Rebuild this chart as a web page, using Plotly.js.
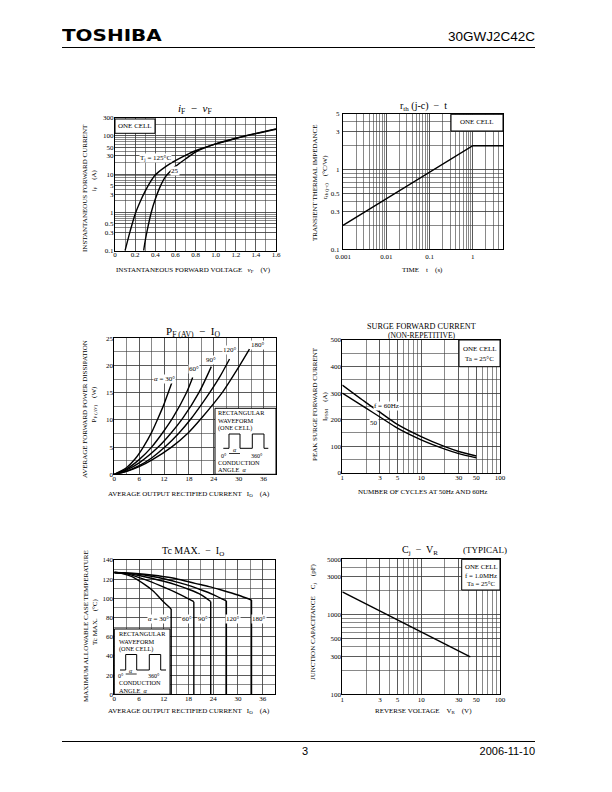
<!DOCTYPE html>
<html><head><meta charset="utf-8">
<script src="https://cdn.plot.ly/plotly-3.0.1.min.js"></script>
<style>
html,body{margin:0;padding:0;background:#fff;}
#wrap{position:relative;width:612px;height:792px;overflow:hidden;background:#fff;}
#chart{position:absolute;left:0;top:0;width:612px;height:792px;}
.hdr{position:absolute;color:#000;white-space:nowrap;line-height:1;}
.rule{position:absolute;left:62px;width:473px;height:1px;background:#000;}
</style></head><body>
<div id="wrap">
<div id="chart"></div>
<div class="hdr" style="left:62px;top:29px;font-family:'DejaVu Sans',sans-serif;font-weight:bold;font-size:15px;transform:scaleX(1.33);transform-origin:0 0;">TOSHIBA</div>
<div class="hdr" style="right:77px;top:30px;font-family:'Liberation Sans',Arial,sans-serif;font-size:13.5px;">30GWJ2C42C</div>
<div class="rule" style="top:47px;"></div>
<div class="rule" style="top:741px;"></div>
<div class="hdr" style="left:302px;top:746px;font-family:'Liberation Sans',Arial,sans-serif;font-size:11px;">3</div>
<div class="hdr" style="right:77px;top:746px;font-family:'Liberation Sans',Arial,sans-serif;font-size:11px;">2006-11-10</div>
</div>
<script>
// ---------------- DATA ----------------
// iF - vF
const vF125 = [0.10,0.15,0.20,0.25,0.30,0.35,0.40,0.50,0.60,0.70,0.80,1.00,1.20,1.40,1.60];
const iF125 = [0.1,0.32,0.9,1.9,3.6,6.2,9.5,15.5,22.5,31,41,62,86,115,150];
const vF25  = [0.285,0.30,0.33,0.36,0.40,0.45,0.50,0.55,0.60,0.70,0.80,1.00,1.20,1.40,1.60];
const iF25  = [0.1,0.18,0.45,1.0,2.2,4.8,8.5,12,16,25,38,62,87,117,153];
const ifvfXTicks = [0,0.2,0.4,0.6,0.8,1.0,1.2,1.4,1.6];
const ifvfXText  = ['0','0.2','0.4','0.6','0.8','1.0','1.2','1.4','1.6'];
const ifvfYTicks = [0.1,0.3,0.5,1,3,5,10,30,50,100,300];
const ifvfYText  = ['0.1','0.3','0.5','1','3','5','10','30','50','100','300'];

// rth(j-c) - t
const tTime = [0.001,0.01,0.1,1,5];
const rthJC = [0.2,0.43,0.93,2.0,2.0];
const rthXTicks = [0.001,0.01,0.1,1];
const rthXText  = ['0.001','0.01','0.1','1'];
const rthYTicks = [0.1,0.3,0.5,1,3,5];
const rthYText  = ['0.1','0.3','0.5','1','3','5'];

// PF(AV) - IO
const pfIo30  = [0,3,5,7,9,10.6,12,13,14];
const pfP30   = [0,1.26,2.8,5,7.7,10.4,12.9,15,17.1];
const pfIo60  = [0,3,6,9,12,14.2,17.4,18.9];
const pfP60   = [0,1.0,2.7,5,8,10.5,15,17.8];
const pfIo90  = [0,3,6,10.6,13.5,16.6,20.4,23.4];
const pfP90   = [0,0.8,2.1,5,7.4,10.4,15,19.8];
const pfIo120 = [0,3,6,9,12.2,15.5,18.6,21,23,25.5,27.8];
const pfP120  = [0,0.6,1.6,3.0,5,7.5,10.3,12.8,15,18,21.2];
const pfIo180 = [0,3,6,9,13.8,17.8,21,26.2,30,32.6];
const pfP180  = [0,0.55,1.4,2.6,5,7.6,10.3,15.2,19.7,23];
const ioTicks = [0,6,12,18,24,30,36];
const ioText  = ['0','6','12','18','24','30','36'];
const pfYTicks = [0,5,10,15,20,25];
const pfYText  = ['0','5','10','15','20','25'];

// Surge forward current
const cycles  = [1,2,3,5,10,20,30,50];
const ifsm60  = [330,264,228,182,136,98,80,63];
const ifsm50  = [300,243,210,168,124,89,72,56];
const logXTicks = [1,3,5,10,30,50,100];
const logXText  = ['1','3','5','10','30','50','100'];
const surgeYTicks = [0,100,200,300,400,500];
const surgeYText  = ['0','100','200','300','400','500'];

// Tc MAX - IO
const tcIo30  = [0,2,4.3,7.5,9.5,11.5,13.8];
const tcT30   = [127,125.8,122.6,114,107.5,98.3,89];
const tcIo60  = [0,3,7.5,11,15.5,19.3];
const tcT60   = [127,125.5,119.5,113.5,105,96.6];
const tcIo90  = [0,3,6,9,12,15,18,21,23.4];
const tcT90   = [127,126,123.8,121,117.8,114,109.5,104,96.8];
const tcIo120 = [0,3,6,9,12,15,18,21,24,27.2];
const tcT120  = [127,126.3,125,123,120.5,117.2,113.5,109,104,97.3];
const tcIo180 = [0,3,6,9,12,15,19.6,23,26,30,33.3];
const tcT180  = [127,126.6,125.7,124.3,122.6,120.5,115.7,112.3,108.7,103.5,98.3];
const tcYTicks = [0,20,40,60,80,100,120,140];
const tcYText  = ['0','20','40','60','80','100','120','140'];

// Cj - VR
const vR = [1,10,42];
const cJ = [1950,610,295];
const cjYTicks = [100,300,500,1000,3000,5000];
const cjYText  = ['100','300','500','1000','3000','5000'];

// ---------------- HELPERS ----------------
const SERIF = '"Liberation Serif","Times New Roman",serif';
const W = 612, H = 792;
const px = x => x / W;
const py = y => 1 - y / H;
const GRID = '#3a3a3a';

function logGrid(lo, hi) {
  const out = [];
  for (let e = Math.floor(Math.log10(lo)) - 1; e <= Math.ceil(Math.log10(hi)); e++) {
    for (let m = 1; m < 10; m++) {
      const v = +(m * Math.pow(10, e)).toPrecision(6);
      if (v >= lo * 0.9999 && v <= hi * 1.0001) out.push(v);
    }
  }
  return out;
}
function linGrid(lo, hi, step) {
  const out = [];
  for (let v = lo; v <= hi + 1e-9; v += step) out.push(+v.toFixed(6));
  return out;
}
function ticks(grid, vals, texts) {
  return {
    tickmode: 'array', tickvals: vals, ticktext: texts,
    minor: { tickmode: 'array', tickvals: grid, showgrid: true, gridcolor: GRID, gridwidth: 0.6, ticks: '' }
  };
}
function axis(extra, standoff) {
  return Object.assign({
    showline: true, linecolor: '#000', linewidth: 1, mirror: true,
    showgrid: true, gridcolor: GRID, gridwidth: 0.6,
    zeroline: false, ticks: '', fixedrange: true,
    ticklabelstandoff: standoff,
    tickfont: { family: SERIF, size: 7, color: '#000' }
  }, extra);
}
const LINE = { color: '#000', width: 1.4, shape: 'spline', smoothing: 0.8 };
function tr(x, y, xa, ya, shape) {
  return { x, y, xaxis: xa, yaxis: ya, mode: 'lines', hoverinfo: 'skip',
           line: Object.assign({}, LINE, shape ? { shape } : {}) };
}
function txt(text, x, y, size, extra) {
  return Object.assign({ text, x: px(x), y: py(y), xref: 'paper', yref: 'paper',
    showarrow: false, xanchor: 'center', yanchor: 'middle', borderpad: 0,
    font: { family: SERIF, size, color: '#000' } }, extra || {});
}
function dlab(text, x, y, xr, yr, size, extra) {
  return Object.assign({ text, x, y, xref: xr, yref: yr, showarrow: false,
    xanchor: 'center', yanchor: 'middle', borderpad: 0,
    font: { family: SERIF, size, color: '#000' } }, extra || {});
}
function box(x0, y0, x1, y1) {
  return { type: 'rect', xref: 'paper', yref: 'paper', x0: px(x0), x1: px(x1), y0: py(y1), y1: py(y0),
           line: { color: '#000', width: 1 }, fillcolor: '#fff', layer: 'above' };
}
function pathShape(pts) {
  const d = pts.map((p, i) => (i ? 'L' : 'M') + px(p[0]).toFixed(5) + ',' + py(p[1]).toFixed(5)).join(' ');
  return { type: 'path', xref: 'paper', yref: 'paper', path: d, line: { color: '#000', width: 1 }, layer: 'above' };
}
function lineShape(x0, y0, x1, y1) {
  return { type: 'line', xref: 'paper', yref: 'paper', x0: px(x0), y0: py(y0), x1: px(x1), y1: py(y1),
           line: { color: '#000', width: 0.8 }, layer: 'above' };
}

// ---------------- TRACES ----------------
const last = a => a[a.length - 1];
const traces = [
  tr(vF125, iF125, 'x', 'y'),
  tr(vF25, iF25, 'x', 'y'),
  tr(tTime, rthJC, 'x2', 'y2', 'linear'),
  tr(pfIo30, pfP30, 'x3', 'y3'),
  tr(pfIo60, pfP60, 'x3', 'y3'),
  tr(pfIo90, pfP90, 'x3', 'y3'),
  tr(pfIo120, pfP120, 'x3', 'y3'),
  tr(pfIo180, pfP180, 'x3', 'y3'),
  tr(cycles, ifsm60, 'x4', 'y4'),
  tr(cycles, ifsm50, 'x4', 'y4'),
  tr(tcIo30, tcT30, 'x5', 'y5'),
  tr(tcIo60, tcT60, 'x5', 'y5'),
  tr(tcIo90, tcT90, 'x5', 'y5'),
  tr(tcIo120, tcT120, 'x5', 'y5'),
  tr(tcIo180, tcT180, 'x5', 'y5'),
  tr([last(tcIo30), last(tcIo30)], [last(tcT30), 0], 'x5', 'y5', 'linear'),
  tr([last(tcIo60), last(tcIo60)], [last(tcT60), 0], 'x5', 'y5', 'linear'),
  tr([last(tcIo90), last(tcIo90)], [last(tcT90), 0], 'x5', 'y5', 'linear'),
  tr([last(tcIo120), last(tcIo120)], [last(tcT120), 0], 'x5', 'y5', 'linear'),
  tr([last(tcIo180), last(tcIo180)], [last(tcT180), 0], 'x5', 'y5', 'linear'),
  tr(vR, cJ, 'x6', 'y6', 'linear')
];

// ---------------- LAYOUT ----------------
const layout = {
  width: W, height: H, margin: { l: 0, r: 0, t: 0, b: 0 },
  paper_bgcolor: 'rgba(0,0,0,0)', plot_bgcolor: '#fff', showlegend: false, hovermode: false,
  xaxis: axis(Object.assign({ domain: [px(115), px(276)], range: [0, 1.6], anchor: 'y' },
    ticks(linGrid(0, 1.6, 0.1), ifvfXTicks, ifvfXText)), -3),
  yaxis: axis(Object.assign({ domain: [py(250.7), py(117.7)], type: 'log', range: [-1, Math.log10(300)], anchor: 'x' },
    ticks(logGrid(0.1, 300), ifvfYTicks, ifvfYText)), -1),
  xaxis2: axis(Object.assign({ domain: [px(343), px(503)], type: 'log', range: [-3, Math.log10(5)], anchor: 'y2' },
    ticks(logGrid(0.001, 5), rthXTicks, rthXText)), 0),
  yaxis2: axis(Object.assign({ domain: [py(249.3), py(114)], type: 'log', range: [-1, Math.log10(5)], anchor: 'x2' },
    ticks(logGrid(0.1, 5), rthYTicks, rthYText)), 1),
  xaxis3: axis(Object.assign({ domain: [px(114.3), px(276)], range: [0, 39], anchor: 'y3' },
    ticks(linGrid(0, 39, 3), ioTicks, ioText)), -3),
  yaxis3: axis(Object.assign({ domain: [py(474.3), py(338.3)], range: [0, 25], anchor: 'x3' },
    ticks(linGrid(0, 25, 2.5), pfYTicks, pfYText)), -1),
  xaxis4: axis(Object.assign({ domain: [px(342.3), px(500)], type: 'log', range: [0, 2], anchor: 'y4' },
    ticks(logGrid(1, 100), logXTicks, logXText)), -2),
  yaxis4: axis(Object.assign({ domain: [py(472.7), py(340)], range: [0, 500], anchor: 'x4' },
    ticks(linGrid(0, 500, 50), surgeYTicks, surgeYText)), -1),
  xaxis5: axis(Object.assign({ domain: [px(114.3), px(275)], range: [0, 39], anchor: 'y5' },
    ticks(linGrid(0, 39, 3), ioTicks, ioText)), -3),
  yaxis5: axis(Object.assign({ domain: [py(694.3), py(560)], range: [0, 140], anchor: 'x5' },
    ticks(linGrid(0, 140, 10), tcYTicks, tcYText)), -1),
  xaxis6: axis(Object.assign({ domain: [px(342.3), px(500)], type: 'log', range: [0, 2], anchor: 'y6' },
    ticks(logGrid(1, 100), logXTicks, logXText)), -2),
  yaxis6: axis(Object.assign({ domain: [py(694.3), py(559.3)], type: 'log', range: [2, Math.log10(5000)], anchor: 'x6' },
    ticks(logGrid(100, 5000), cjYTicks, cjYText)), -1),
  shapes: [], annotations: []
};

const A = layout.annotations, S = layout.shapes;
const WB = { bgcolor: '#fff' };

// Titles
A.push(txt('<i>i</i><sub>F</sub>  −  <i>v</i><sub>F</sub>', 195, 109, 11));
A.push(txt('r<sub>th</sub> (j-c)  −  t', 423, 106.5, 10));
A.push(txt('P<sub>F (AV)</sub>  −  I<sub>O</sub>', 193, 331.5, 11));
A.push(txt('SURGE FORWARD CURRENT', 421.7, 326.8, 8.2));
A.push(txt('(NON-REPETITIVE)', 421.7, 335.8, 7.6));
A.push(txt('Tc MAX.  −  I<sub>O</sub>', 193, 551, 10));
A.push(txt('C<sub>j</sub>  −  V<sub>R</sub>', 420, 550, 10));
A.push(txt('(TYPICAL)', 485, 550, 9));

// X axis titles
A.push(txt('INSTANTANEOUS FORWARD VOLTAGE   <i>v</i><sub>F</sub>    (V)', 193, 269.5, 7));
A.push(txt('TIME    t    (s)', 422, 269.5, 7));
A.push(txt('AVERAGE OUTPUT RECTIFIED CURRENT   I<sub>O</sub>    (A)', 189, 494, 7));
A.push(txt('NUMBER OF CYCLES AT 50Hz AND 60Hz', 422, 492, 7));
A.push(txt('AVERAGE OUTPUT RECTIFIED CURRENT   I<sub>O</sub>    (A)', 189, 711, 7));
A.push(txt('REVERSE VOLTAGE    V<sub>R</sub>    (V)', 423, 711, 7));

// Y axis titles
const R = { textangle: -90 };
A.push(txt('INSTANTANEOUS FORWARD CURRENT', 85, 188, 7, R));
A.push(txt('<i>i</i><sub>F</sub>    (A)', 93.5, 181, 7, R));
A.push(txt('TRANSIENT THERMAL IMPEDANCE', 315, 182, 7, R));
A.push(txt('r<sub>th (j-c)</sub>    (°C/W)', 325, 177, 7, R));
A.push(txt('AVERAGE FORWARD POWER DISSIPATION', 85, 409, 7, R));
A.push(txt('P<sub>F (AV)</sub>    (W)', 93.5, 405, 7, R));
A.push(txt('PEAK SURGE FORWARD CURRENT', 315, 404, 7, R));
A.push(txt('I<sub>FSM</sub>    (A)', 325, 406, 7, R));
A.push(txt('MAXIMUM ALLOWABLE CASE TEMPERATURE', 86, 626, 7, R));
A.push(txt('Tc MAX.    (°C)', 95, 622, 7, R));
A.push(txt('JUNCTION CAPACITANCE    C<sub>j</sub>    (pF)', 313, 622, 7, R));

// In-chart labels
A.push(dlab('T<sub>j</sub> = 125°C', 0.40, Math.log10(26), 'x', 'y', 7, WB));
A.push(dlab('25', 0.6, Math.log10(12), 'x', 'y', 7, WB));
A.push(dlab('<i>α</i> = 30°', 12.2, 17.6, 'x3', 'y3', 7, WB));
A.push(dlab('60°', 19.3, 19.4, 'x3', 'y3', 7, WB));
A.push(dlab('90°', 23.4, 21.1, 'x3', 'y3', 7, WB));
A.push(dlab('120°', 27.8, 22.9, 'x3', 'y3', 7, WB));
A.push(dlab('180°', 34.7, 23.7, 'x3', 'y3', 7, WB));
A.push(dlab('f = 60Hz', Math.log10(3.6), 251, 'x4', 'y4', 7, WB));
A.push(dlab('50', Math.log10(2.5), 186, 'x4', 'y4', 7, WB));
A.push(dlab('<i>α</i> = 30°', 10.7, 79, 'x5', 'y5', 7, WB));
A.push(dlab('60°', 17.6, 79, 'x5', 'y5', 7, WB));
A.push(dlab('90°', 21.6, 79, 'x5', 'y5', 7, WB));
A.push(dlab('120°', 28.9, 79, 'x5', 'y5', 7, WB));
A.push(dlab('180°', 35.0, 79, 'x5', 'y5', 7, WB));

// Info boxes
S.push(box(115, 119, 155, 133.3));
A.push(txt('ONE CELL', 135, 126.5, 7));
S.push(box(451, 114.3, 503, 131));
A.push(txt('ONE CELL', 477, 122.5, 7));
S.push(box(459, 340, 500, 366.7));
A.push(txt('ONE CELL', 479.5, 348.8, 7));
A.push(txt('Ta = 25°C', 479.5, 358.5, 7));
S.push(box(461.7, 559.3, 500, 590));
A.push(txt('ONE CELL', 481, 566.8, 6.8));
A.push(txt('f = 1.0MHz', 481, 575.2, 6.8));
A.push(txt('Ta = 25°C', 481, 583.8, 6.8));

// Rectangular waveform inset (PF chart)
const FS = 6.3;
S.push(box(215, 408.3, 276, 474.3));
const L = { xanchor: 'left' };
A.push(txt('RECTANGULAR', 217, 412.5, FS, L));
A.push(txt('WAVEFORM', 217, 420, FS, L));
A.push(txt('(ONE CELL)', 217, 427.5, FS, L));
S.push(pathShape([[223.3,448.3],[229,448.3],[229,434],[240,434],[240,448.3],[252.3,448.3],[252.3,434],[264,434],[264,448.3],[268.3,448.3]]));
S.push(lineShape(229, 453.5, 240, 453.5));
A.push(txt('0°', 223.5, 455.5, 6));
A.push(txt('<i>α</i>', 234.5, 450.3, 6));
A.push(txt('360°', 257, 455.5, 6));
A.push(txt('CONDUCTION', 217, 462.3, FS, L));
A.push(txt('ANGLE  <i>α</i>', 217, 469.8, FS, L));

// Rectangular waveform inset (Tc chart)
S.push(box(114.3, 629, 170, 694.3));
A.push(txt('RECTANGULAR', 118, 633.5, FS, L));
A.push(txt('WAVEFORM', 118, 641, FS, L));
A.push(txt('(ONE CELL)', 118, 648.5, FS, L));
S.push(pathShape([[120,670],[125.7,670],[125.7,654.5],[136.7,654.5],[136.7,670],[149.3,670],[149.3,654.5],[160.7,654.5],[160.7,670],[166,670]]));
S.push(lineShape(125.7, 674, 136.7, 674));
A.push(txt('0°', 121, 675.5, 6));
A.push(txt('<i>α</i>', 131.2, 671.3, 6));
A.push(txt('360°', 154, 675.5, 6));
A.push(txt('CONDUCTION', 118, 682.8, FS, L));
A.push(txt('ANGLE  <i>α</i>', 118, 690.2, FS, L));

Plotly.newPlot('chart', traces, layout, { staticPlot: true, displayModeBar: false });
</script>
</body></html>
